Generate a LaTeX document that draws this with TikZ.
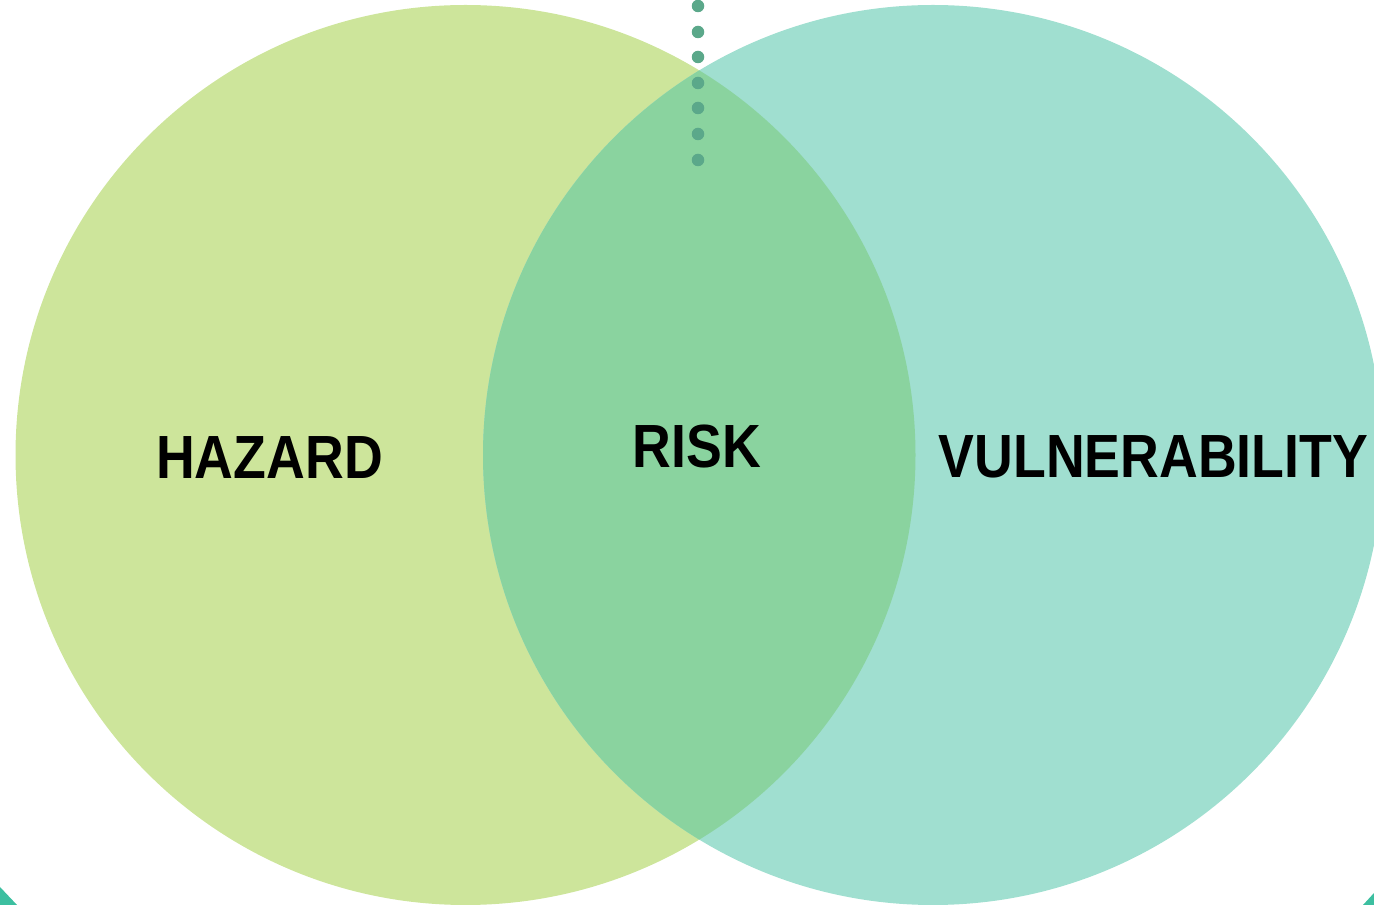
\documentclass[tikz,border=0pt]{standalone}
\usepackage{fontspec}
\setmainfont{Liberation Sans}
\newfontfamily\labelfont[FakeStretch=0.88]{Liberation Sans}
\definecolor{hazardc}{HTML}{CDE59B}
\definecolor{vulnc}{HTML}{A0DFD0}
\definecolor{riskc}{HTML}{8AD39F}
\definecolor{dotc}{HTML}{5BA88A}
\definecolor{cornerc}{HTML}{3CBFA0}
\tikzset{
  lbl/.style={font=\labelfont\bfseries\fontsize{61}{61}\selectfont, text=black, inner sep=0pt},
  vdot/.style={circle, fill=dotc, minimum size=12.5pt, inner sep=0pt}
}
\begin{document}
\begin{tikzpicture}[x=1pt,y=1pt]
\useasboundingbox (0,0) rectangle (1374,905);
\begin{scope}
\clip (0,0) rectangle (1374,905);
% corners
\fill[cornerc] (0,18) -- (0,0) -- (17,0) -- cycle;
\fill[cornerc] (1374,12) -- (1374,0) -- (1363,0) -- cycle;
% circles
\fill[hazardc] (465.5,450) circle (450);
\fill[vulnc] (933,450) circle (450);
\begin{scope}
\clip (465.5,450) circle (450);
\fill[riskc] (933,450) circle (450);
\end{scope}
\end{scope}
% dots
\foreach \i/\y in {1/6,2/32,3/57,4/83,5/108,6/134,7/160}{
  \node[vdot] (d\i) at (698,905-\y) {};
}
% labels
\node[lbl] (hazard) at (269.5,447) {HAZARD};
\node[lbl] (risk) at (697,458) {RISK};
\node[lbl] (vuln) at (1153.5,448) {VULNERABILITY};
\end{tikzpicture}
\end{document}
